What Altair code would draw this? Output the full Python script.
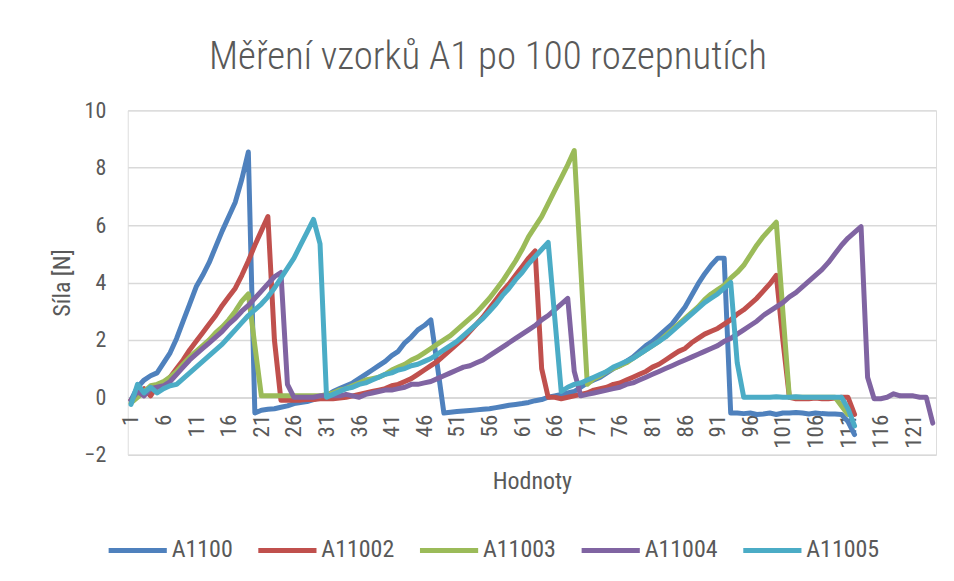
import altair as alt
import pandas as pd

series_names = ["A1100", "A11002", "A11003", "A11004", "A11005"]
series_colors = ["#4F81BD", "#C0504D", "#9BBB59", "#8064A2", "#4BACC6"]

a1100 = [
    -0.1, 0.35, 0.6, 0.75, 0.85, 1.2, 1.55, 2.05, 2.65, 3.25,
    3.85, 4.25, 4.7, 5.25, 5.8, 6.3, 6.8, 7.6, 8.55, -0.55,
    -0.45, -0.42, -0.4, -0.35, -0.3, -0.22, -0.18, -0.15, -0.08, 0.0,
    0.05, 0.2, 0.3, 0.4, 0.5, 0.65, 0.8, 0.95, 1.1, 1.25,
    1.45, 1.6, 1.9, 2.1, 2.35, 2.5, 2.7, 1.1, -0.55, -0.52,
    -0.5, -0.48, -0.46, -0.44, -0.42, -0.4, -0.36, -0.32, -0.28, -0.25,
    -0.22, -0.18, -0.12, -0.08, 0.0, 0.05, 0.1, 0.15, 0.2, 0.35,
    0.5, 0.6, 0.7, 0.85, 1.0, 1.1, 1.25, 1.4, 1.6, 1.8,
    1.95, 2.15, 2.35, 2.55, 2.85, 3.15, 3.55, 3.95, 4.3, 4.6,
    4.85, 4.85, -0.55, -0.55, -0.57, -0.55, -0.6, -0.58, -0.55, -0.6,
    -0.55, -0.55, -0.53, -0.55, -0.58, -0.55, -0.57, -0.58, -0.58, -0.6,
    -0.85, -1.3,
]

a11002 = [
    -0.1, 0.1, 0.3, 0.05, 0.4, 0.5, 0.7, 1.0, 1.3, 1.65,
    1.95, 2.25, 2.55, 2.85, 3.2, 3.5, 3.8, 4.25, 4.75, 5.3,
    5.8, 6.3, 2.0, -0.1, -0.1, -0.1, -0.1, -0.08, -0.08, -0.05,
    -0.05, -0.05, -0.03, 0.0, 0.05, 0.1, 0.15, 0.2, 0.25, 0.3,
    0.4, 0.45, 0.55, 0.65, 0.8, 0.95, 1.1, 1.25, 1.45, 1.65,
    1.85, 2.05, 2.3, 2.55, 2.8, 3.1, 3.4, 3.7, 3.95, 4.25,
    4.55, 4.85, 5.1, 1.0, 0.0, 0.0, -0.05, 0.0, 0.05, 0.1,
    0.15, 0.25, 0.3, 0.35, 0.45, 0.5, 0.6, 0.7, 0.8, 0.9,
    1.05, 1.15, 1.3, 1.45, 1.6, 1.7, 1.9, 2.05, 2.2, 2.3,
    2.4, 2.55, 2.7, 2.9, 3.05, 3.25, 3.45, 3.7, 3.95, 4.25,
    2.0, 0.0, -0.05, -0.05, -0.05, -0.03, -0.05, -0.05, -0.03, 0.0,
    0.0, -0.6,
]

a11003 = [
    -0.2, 0.0, 0.2, 0.4, 0.45, 0.55, 0.7, 0.9, 1.15, 1.4,
    1.6, 1.8, 2.0, 2.25, 2.45, 2.7, 3.0, 3.35, 3.6, 1.8,
    0.05, 0.05, 0.05, 0.05, 0.05, 0.05, 0.05, 0.05, 0.05, 0.05,
    0.1, 0.15, 0.25, 0.3, 0.4, 0.5, 0.6, 0.65, 0.7, 0.8,
    0.95, 1.05, 1.15, 1.3, 1.4, 1.55, 1.7, 1.85, 2.0, 2.15,
    2.35, 2.55, 2.75, 2.95, 3.2, 3.45, 3.75, 4.05, 4.4, 4.75,
    5.15, 5.6, 5.95, 6.3, 6.75, 7.2, 7.65, 8.1, 8.6, 4.5,
    0.45, 0.65, 0.75, 0.9, 1.0, 1.1, 1.2, 1.35, 1.5, 1.65,
    1.8, 1.95, 2.15, 2.35, 2.55, 2.75, 2.95, 3.15, 3.4, 3.6,
    3.75, 3.9, 4.15, 4.35, 4.6, 4.95, 5.3, 5.6, 5.85, 6.1,
    3.0, 0.0, 0.0, 0.0, 0.0, 0.0, 0.0, 0.0, 0.0, -0.3,
    -0.6,
]

a11004 = [
    -0.1, 0.2, 0.05, 0.3, 0.35, 0.4, 0.55, 0.8, 1.05, 1.3,
    1.5, 1.7, 1.9, 2.1, 2.3, 2.55, 2.75, 3.0, 3.2, 3.45,
    3.7, 3.95, 4.2, 4.35, 0.45, 0.0, 0.0, 0.0, 0.0, 0.05,
    0.05, 0.05, 0.05, 0.1, 0.05, 0.0, 0.1, 0.15, 0.2, 0.25,
    0.25, 0.3, 0.35, 0.45, 0.45, 0.5, 0.55, 0.65, 0.75, 0.85,
    0.95, 1.05, 1.1, 1.2, 1.3, 1.45, 1.6, 1.75, 1.9, 2.05,
    2.2, 2.35, 2.5, 2.7, 2.85, 3.05, 3.25, 3.45, 0.9, 0.05,
    0.1, 0.15, 0.2, 0.25, 0.3, 0.35, 0.45, 0.5, 0.6, 0.7,
    0.8, 0.9, 1.0, 1.1, 1.2, 1.3, 1.4, 1.5, 1.6, 1.7,
    1.8, 1.95, 2.05, 2.2, 2.35, 2.5, 2.65, 2.85, 3.0, 3.15,
    3.3, 3.5, 3.65, 3.85, 4.05, 4.25, 4.45, 4.7, 5.0, 5.3,
    5.55, 5.75, 5.95, 0.7, -0.05, -0.05, 0.0, 0.12, 0.05, 0.05,
    0.05, 0.0, 0.0, -0.9,
]

a11005 = [
    -0.25, 0.45, 0.15, 0.35, 0.15, 0.3, 0.4, 0.45, 0.65, 0.85,
    1.05, 1.25, 1.45, 1.65, 1.85, 2.1, 2.35, 2.6, 2.85, 3.05,
    3.25, 3.5, 3.8, 4.15, 4.5, 4.85, 5.3, 5.75, 6.2, 5.35,
    0.0, 0.1, 0.2, 0.3, 0.35, 0.45, 0.5, 0.6, 0.7, 0.8,
    0.85, 0.95, 1.0, 1.1, 1.15, 1.25, 1.35, 1.5, 1.65, 1.8,
    1.95, 2.15, 2.35, 2.55, 2.75, 3.0, 3.25, 3.55, 3.8, 4.1,
    4.35, 4.65, 4.9, 5.15, 5.4, 2.8, 0.2, 0.35, 0.45, 0.5,
    0.6, 0.7, 0.8, 0.9, 1.05, 1.15, 1.25, 1.35, 1.5, 1.65,
    1.8, 1.95, 2.1, 2.3, 2.5, 2.7, 2.9, 3.1, 3.3, 3.45,
    3.6, 3.8, 4.0, 1.2, 0.0, 0.0, 0.0, 0.0, 0.0, 0.02,
    0.0, 0.0, 0.02, 0.0, 0.0, 0.0, 0.0, 0.0, 0.0, 0.0,
    -0.4, -1.0,
]

x_tick_values = [1, 6, 11, 16, 21, 26, 31, 36, 41, 46, 51, 56, 61, 66, 71, 76,
                 81, 86, 91, 96, 101, 106, 111, 116, 121]
y_tick_values = [-2, 0, 2, 4, 6, 8, 10]

all_series = [a1100, a11002, a11003, a11004, a11005]
rows = []
for k, (name, vals) in enumerate(zip(series_names, all_series)):
    for i, v in enumerate(vals):
        rows.append({"Hodnoty": i + 1, "Síla": v, "serie": name, "k": k})
df = pd.DataFrame(rows)

FONT = "Liberation Sans Narrow, Roboto Condensed, Liberation Sans, sans-serif"
TXT = "#595959"
GRID = "#d9d9d9"

chart = alt.Chart(df).mark_line(
    strokeWidth=5, strokeCap="round", strokeJoin="round"
).encode(
    x=alt.X("Hodnoty:Q",
            scale=alt.Scale(domain=[0.5, 124.5], nice=False, zero=False),
            axis=alt.Axis(values=x_tick_values, labelAngle=-90, grid=False,
                          ticks=False, domain=True, domainColor=GRID, domainWidth=1.5,
                          offset=-57.5, labelPadding=17, labelFontSize=23,
                          labelColor=TXT, labelFont=FONT, labelFlush=False,
                          labelOverlap=False,
                          title="Hodnoty", titleFont=FONT, titleFontSize=24,
                          titleFontWeight="normal", titleColor=TXT, titlePadding=21)),
    y=alt.Y("Síla:Q",
            scale=alt.Scale(domain=[-2, 10], nice=False),
            axis=alt.Axis(values=y_tick_values, grid=True, gridColor=GRID, gridWidth=1.5,
                          ticks=False, domain=False, labelPadding=22, labelFontSize=22,
                          labelColor=TXT, labelFont=FONT,
                          title="Síla [N]", titleFont=FONT, titleFontSize=24,
                          titleFontWeight="normal", titleColor=TXT, titlePadding=10)),
    color=alt.Color("serie:N",
                    scale=alt.Scale(domain=series_names, range=series_colors),
                    legend=alt.Legend(title=None, orient="none", legendX=-22, legendY=409,
                                      direction="horizontal", columns=5,
                                      symbolType="stroke", symbolSize=3400,
                                      symbolStrokeWidth=5, labelFontSize=24,
                                      labelFont=FONT, labelColor=TXT,
                                      columnPadding=14, labelOffset=2)),
    detail="serie:N",
    order="Hodnoty:Q",
).properties(
    width=810,
    height=345,
    padding={"left": 120, "top": 102, "right": 10, "bottom": 110},
    autosize=alt.AutoSizeParams(type="none"),
    title=alt.TitleParams("Měření vzorků A1 po 100 rozepnutích", font=FONT,
                          fontSize=39, fontWeight=300, color=TXT,
                          anchor="middle", offset=22, dx=-44),
).configure_view(stroke=None).configure(background="white")

chart.save("out.html", embed_options={"renderer": "svg", "actions": False})
